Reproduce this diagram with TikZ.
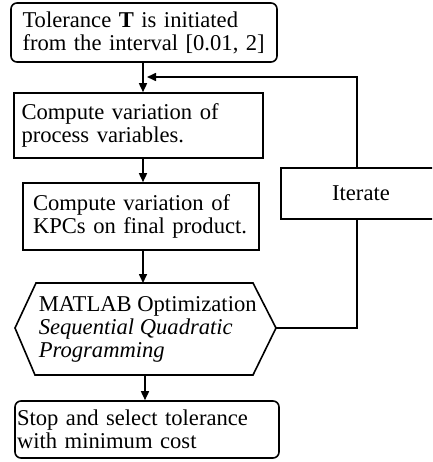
\documentclass[tikz,border=0pt]{standalone}
\usepackage{fontspec}
\setmainfont{Liberation Serif}
\usetikzlibrary{arrows.meta}
\begin{document}
\begin{tikzpicture}[x=1pt,y=-1pt,line width=1.6pt,
  every node/.style={font=\fontsize{22.6}{23}\selectfont},
  box/.style={draw,rectangle,align=left,inner ysep=0pt,anchor=center},
  rbox/.style={box,rounded corners=6pt},
  arr/.style={-{Triangle[length=9pt,width=8pt]}}]
\useasboundingbox (0,0) rectangle (432,462);
\clip (0,0) rectangle (432,462);
% boxes
\node[rbox,minimum width=266pt,minimum height=59pt,inner xsep=11.5pt,text width=243pt] (box1) at (144,32.5)
  {\mbox{Tolerance \textbf{T} is initiated}\\\mbox{from the interval [0.01, 2]}};
\node[box,minimum width=249pt,minimum height=65pt,inner xsep=7.5pt,text width=234pt] (box2) at (138.5,125.5)
  {\mbox{Compute variation of}\\\mbox{process variables.}};
\node[box,minimum width=236pt,minimum height=67pt,inner xsep=10pt,text width=216pt] (box3) at (141,216.5)
  {\mbox{Compute variation of}\\\mbox{KPCs on final product.}};
\node[rbox,minimum width=264pt,minimum height=57pt,inner xsep=2pt,text width=260pt] (box4) at (147,429.5)
  {\mbox{Stop and select tolerance}\\\mbox{with minimum cost}};
\node[box,align=center,minimum width=160pt,minimum height=51pt] (iter) at (361,193.5) {Iterate};
% hexagon
\coordinate (hNW) at (36,283);
\coordinate (hNE) at (253,283);
\coordinate (hE) at (276,328);
\coordinate (hSE) at (253,375);
\coordinate (hSW) at (35,375);
\coordinate (hW) at (15,328);
\draw (hNW) -- (hNE) -- (hE) -- (hSE) -- (hSW) -- (hW) -- cycle;
\node[anchor=west,inner sep=0pt,align=left] (hex) at (38,329)
  {MATLAB Optimization\\\textit{Sequential Quadratic}\\\textit{Programming}};
\coordinate (hN) at (143,283);
\coordinate (hS) at (145,375);
% connectors
\coordinate (jn) at (143,77);
\draw[arr] (box1.south -| jn) -- (box2.north -| jn);
\draw[arr] (box2.south -| jn) -- (box3.north -| jn);
\draw[arr] (box3.south -| jn) -- (hN);
\draw[arr] (hS) -- (box4.north -| hS);
\draw (hE) -| ([xshift=-4pt]iter.south);
\draw[arr] ([xshift=-4pt]iter.north) |- ([xshift=4pt]jn);
\end{tikzpicture}
\end{document}
